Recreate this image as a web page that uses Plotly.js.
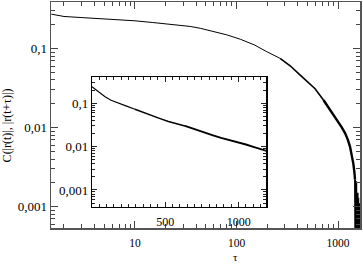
<!DOCTYPE html>
<html>
<head>
<meta charset="utf-8">
<script src="https://cdn.plot.ly/plotly-3.0.1.min.js"></script>
<style>html,body{margin:0;padding:0;background:#fff;}#chart{width:363px;height:264px;}</style>
</head>
<body>
<div id="chart"></div>
<script>
// Main curve: C(|r(t)|,|r(t+tau)|) vs tau (log-log)
var mainTau = [1.5, 2, 3, 4, 6, 10, 15, 20, 27, 35, 44, 60, 80, 109, 150, 199, 269, 340, 424, 500, 594, 718, 850, 971, 1080, 1172, 1250, 1313, 1370, 1414, 1450, 1470];
var mainC   = [0.272, 0.254, 0.246, 0.241, 0.234, 0.224, 0.213, 0.206, 0.198, 0.19, 0.18, 0.165, 0.149, 0.131, 0.111, 0.091, 0.075, 0.06, 0.046, 0.038, 0.031, 0.0223, 0.0163, 0.0125, 0.0102, 0.0085, 0.0070, 0.0057, 0.0045, 0.0035, 0.0027, 0.0022];
// noisy tail near the end of the main curve
var tailTau = [1470, 1478, 1484, 1490, 1496, 1502, 1508, 1514, 1520, 1526, 1532, 1538, 1544, 1550, 1556, 1562, 1568, 1574, 1580, 1586, 1592, 1598, 1604, 1610, 1616, 1622, 1628, 1634, 1640, 1645];
var tailC   = [0.0022, 0.0002, 0.0019, 0.0001, 0.0016, 0.0002, 0.0021, 0.0001, 0.0014, 0.0002, 0.0017, 0.0001, 0.0012, 0.0002, 0.0015, 0.0001, 0.0011, 0.0002, 0.0013, 0.0001, 0.0010, 0.0002, 0.0012, 0.0001, 0.0009, 0.0002, 0.0011, 0.0001, 0.0009, 0.0002];
// Inset curve (lin-log)
var insetTau = [0, 30, 60, 89, 130, 180, 240, 293, 350, 407, 460, 521, 580, 634, 700, 759, 820, 880, 940, 987, 1050, 1100, 1169, 1190];
var insetC   = [0.241, 0.2, 0.166, 0.142, 0.118, 0.1, 0.085, 0.073, 0.061, 0.051, 0.045, 0.038, 0.034, 0.030, 0.025, 0.021, 0.0185, 0.016, 0.0143, 0.013, 0.0112, 0.0099, 0.0084, 0.0080];
// tick labels
var mainXTicks = [10, 100, 1000];
var mainXText = ['10', '100', '1000'];
var yTicks = [0.001, 0.01, 0.1];
var yText = ['0,001', '0,01', '0,1'];
var insetXTicks = [0, 500, 1000];
var insetXText = ['', '500', '1000'];

// segments where the curves get progressively noisier (drawn thicker)
var mainSeg = [[0, 16, 1], [16, 21, 1.6], [21, 31, 2.4]];
var insetSeg = [[0, 7, 1.1], [7, 13, 1.5], [13, 23, 1.9]];

var traces = [];
mainSeg.forEach(function (s) {
  traces.push({x: mainTau.slice(s[0], s[1] + 1), y: mainC.slice(s[0], s[1] + 1), mode: 'lines',
    line: {color: '#000', width: s[2]}, xaxis: 'x', yaxis: 'y', hoverinfo: 'none'});
});
traces.push({x: tailTau, y: tailC, mode: 'lines', line: {color: '#000', width: 2}, xaxis: 'x', yaxis: 'y', hoverinfo: 'none'});
insetSeg.forEach(function (s) {
  traces.push({x: insetTau.slice(s[0], s[1] + 1), y: insetC.slice(s[0], s[1] + 1), mode: 'lines',
    line: {color: '#000', width: s[2]}, xaxis: 'x2', yaxis: 'y2', hoverinfo: 'none'});
});

var serif = '"Liberation Serif", "Times New Roman", Times, serif';
var layout = {
  width: 363, height: 264,
  margin: {l: 51, r: 3, t: 2, b: 36, pad: 0},
  paper_bgcolor: '#fff', plot_bgcolor: '#fff',
  showlegend: false,
  font: {family: serif, size: 12, color: '#000'},
  xaxis: {
    type: 'log', range: [Math.log10(1.49), Math.log10(1645)],
    tickmode: 'array', tickvals: mainXTicks, ticktext: mainXText,
    ticks: 'inside', ticklen: 7, tickwidth: 1, tickcolor: '#444',
    mirror: 'ticks', showline: true, linecolor: '#555', linewidth: 1.5,
    showgrid: false, zeroline: false, ticklabelstandoff: 4,
    minor: {ticks: 'inside', ticklen: 4, dtick: 'D1', tickcolor: '#444', showgrid: false},
    tickfont: {family: serif, size: 11.5, color: '#000'}
  },
  yaxis: {
    type: 'log', range: [-3.27, -0.412],
    tickmode: 'array', tickvals: yTicks, ticktext: yText,
    ticks: 'inside', ticklen: 7, tickwidth: 1, tickcolor: '#444',
    mirror: 'ticks', showline: true, linecolor: '#555', linewidth: 1.5,
    showgrid: false, zeroline: false,
    minor: {ticks: 'inside', ticklen: 4, dtick: 'D1', tickcolor: '#444', showgrid: false},
    tickfont: {family: serif, size: 13, color: '#000'}
  },
  xaxis2: {
    domain: [0.1327, 0.6974], anchor: 'y2', range: [0, 1190],
    tickmode: 'array', tickvals: insetXTicks, ticktext: insetXText,
    ticks: 'inside', ticklen: 5, tickwidth: 1, tickcolor: '#222',
    mirror: 'ticks', showline: true, linecolor: '#000', linewidth: 1.2,
    showgrid: false, zeroline: false, ticklabelstandoff: 3,
    minor: {ticks: 'inside', ticklen: 3, dtick: 50, tick0: 0, tickcolor: '#222', showgrid: false},
    tickfont: {family: serif, size: 12, color: '#000'}
  },
  yaxis2: {
    domain: [0.0916, 0.6668], anchor: 'x2', type: 'log', range: [-3.40, -0.40],
    tickmode: 'array', tickvals: yTicks, ticktext: yText,
    ticks: 'inside', ticklen: 5, tickwidth: 1, tickcolor: '#222',
    mirror: 'ticks', showline: true, linecolor: '#000', linewidth: 1.2,
    showgrid: false, zeroline: false,
    minor: {ticks: 'inside', ticklen: 3, dtick: 'D1', tickcolor: '#222', showgrid: false},
    tickfont: {family: serif, size: 13, color: '#000'}
  },
  annotations: [
    {text: 'C(|r(t)|, |r(t+τ)|)', xref: 'paper', yref: 'paper', x: -0.141, y: 0.456, textangle: -90,
     showarrow: false, font: {family: serif, size: 12, color: '#000'}, xanchor: 'center', yanchor: 'middle'},
    {text: 'τ', xref: 'paper', yref: 'paper', x: 0.597, y: -0.158, showarrow: false, borderpad: 0,
     font: {family: serif, size: 11, color: '#000'}, xanchor: 'center', yanchor: 'bottom'}
  ]
};

Plotly.newPlot('chart', traces, layout, {staticPlot: true, displayModeBar: false});
</script>
</body>
</html>
